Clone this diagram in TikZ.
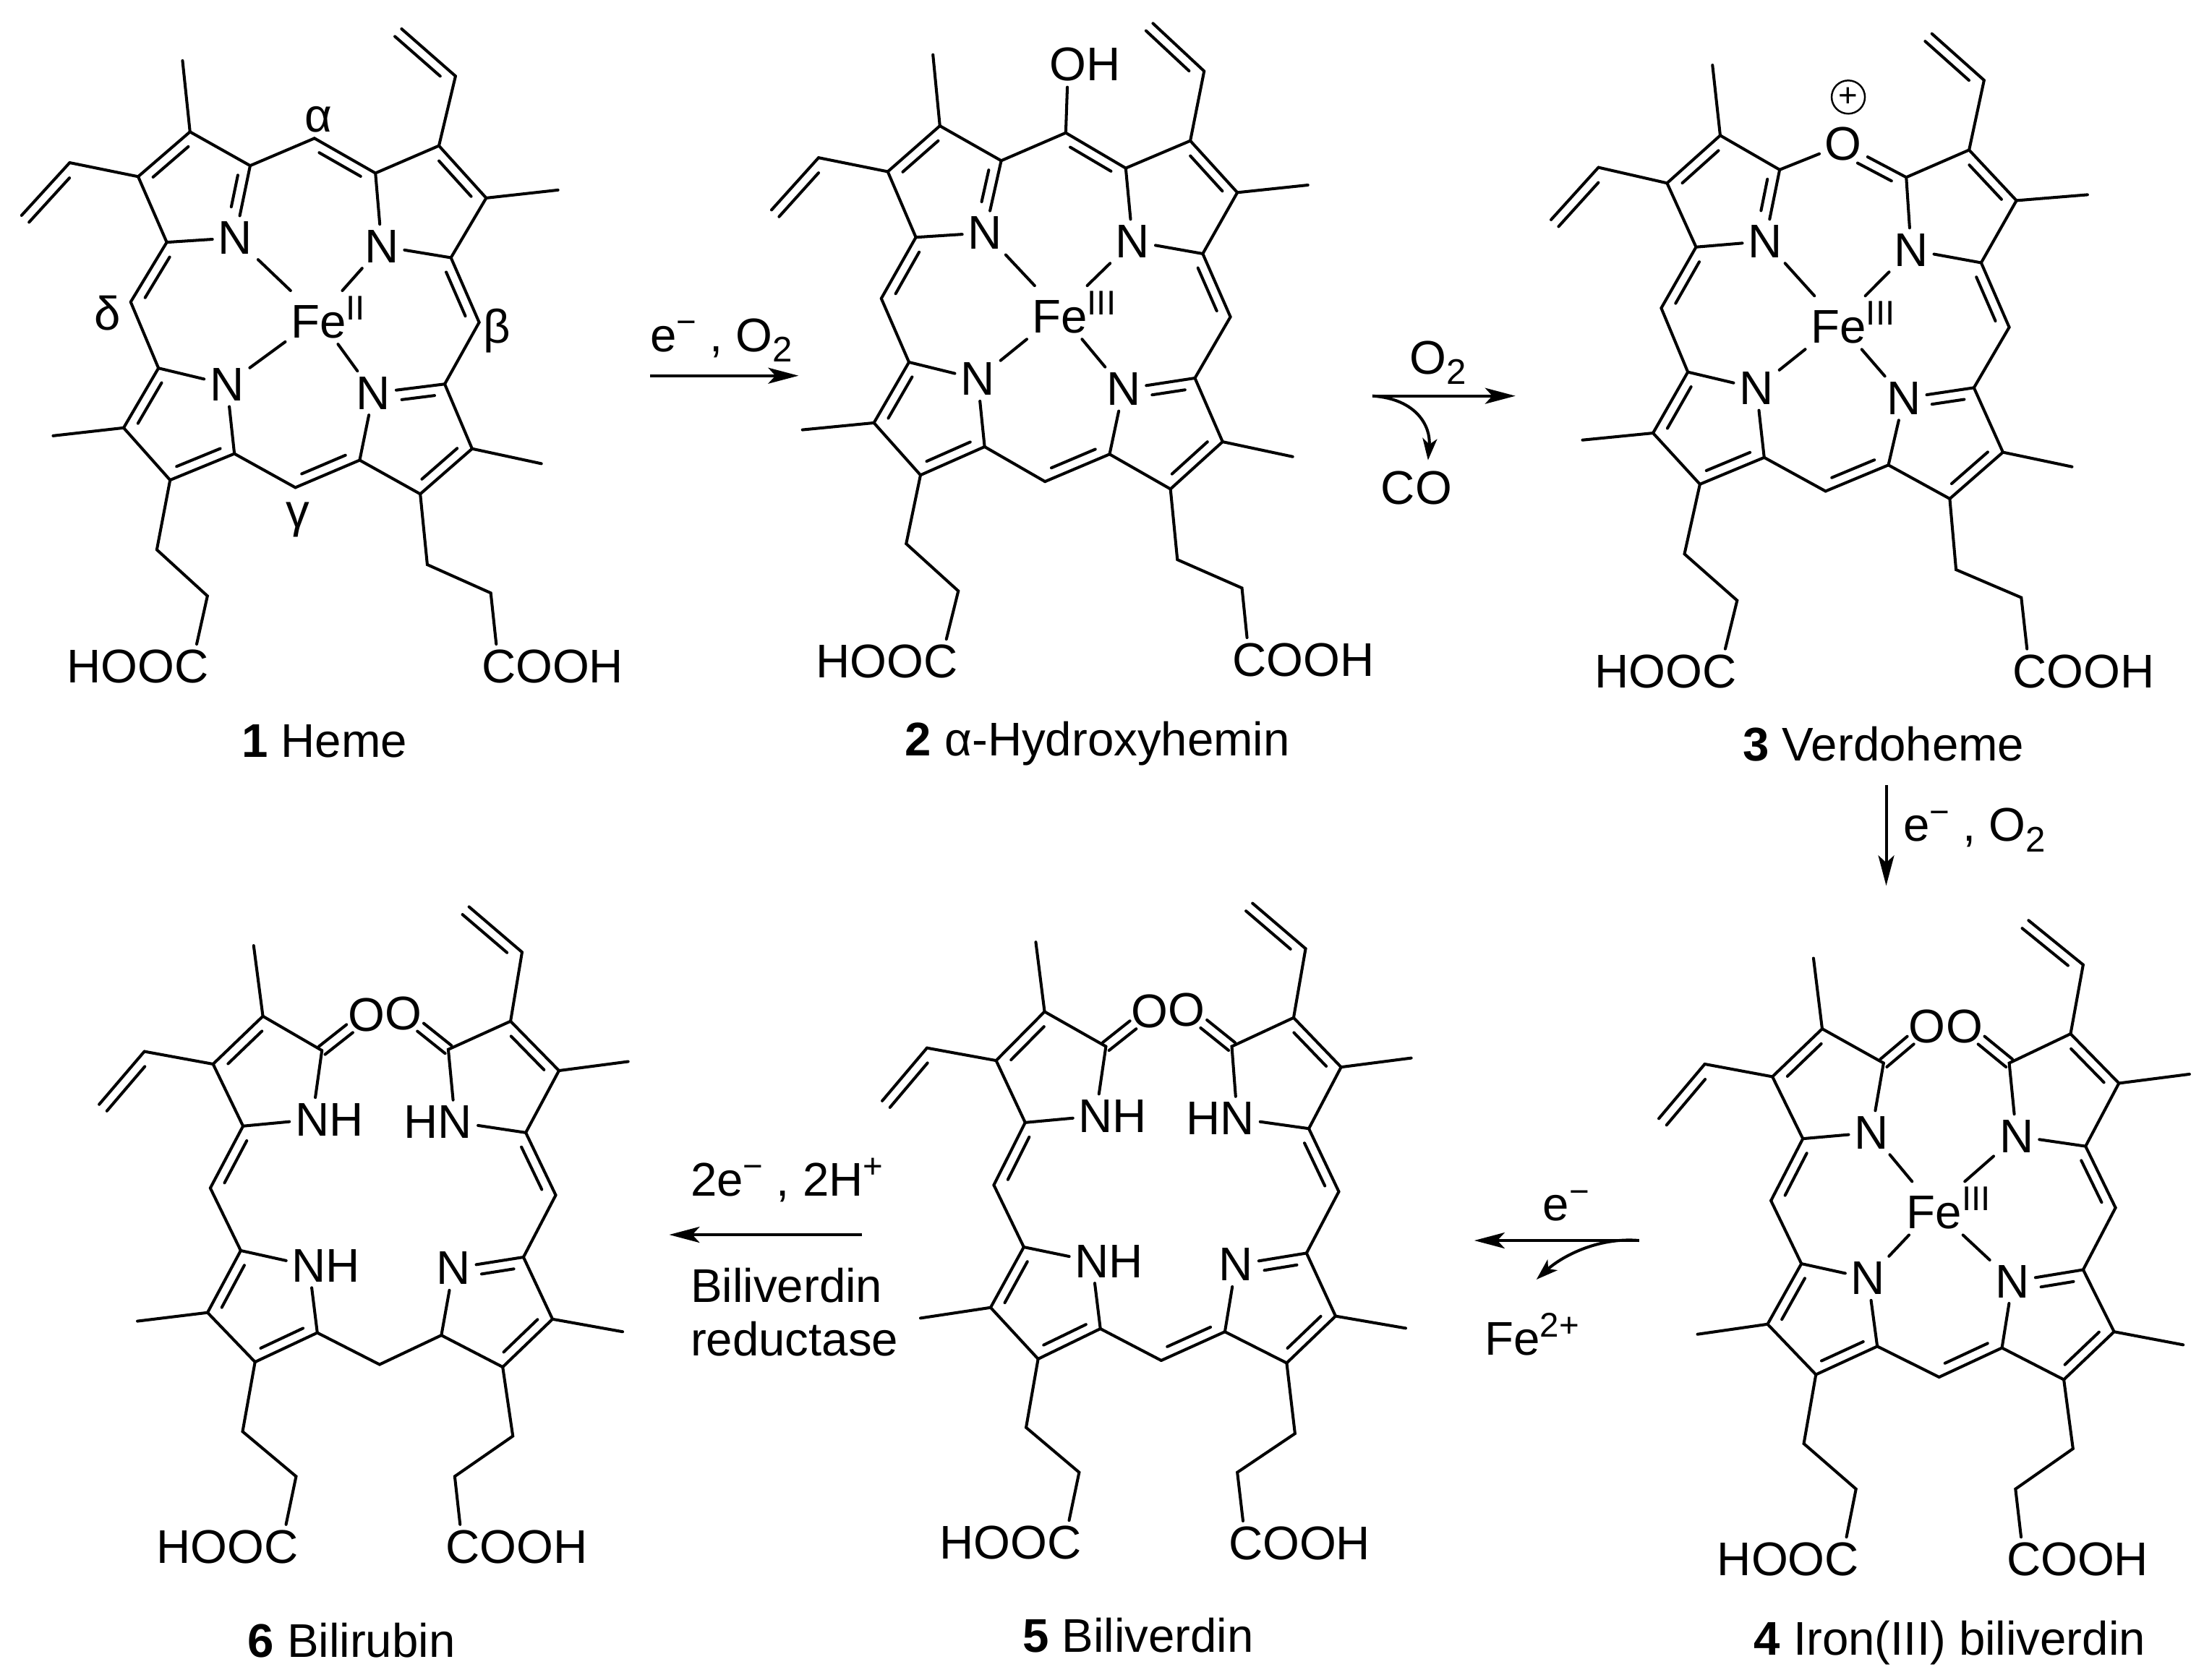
\documentclass[tikz,border=0pt]{standalone}
\usepackage{fontspec}
\setmainfont{Liberation Sans}
\usetikzlibrary{arrows.meta,calc}

\tikzset{
  bond/.style={line width=1.15pt,line cap=round},
  atom/.style={inner sep=0pt,outer sep=.08cm},
  rxn/.style={line width=1.15pt,-{Stealth[length=.42cm,width=.22cm,inset=.1cm]}},
  rxnbend/.style={line width=1.15pt,-{Stealth[length=.3cm,width=.2cm,inset=.08cm]}}
}
\newcommand{\sups}[1]{\raisebox{.38em}{\fontsize{13.5}{14}\selectfont #1}}
\newcommand{\subs}[1]{\raisebox{-.22em}{\fontsize{14}{14}\selectfont #1}}
\newcommand{\atoms}[1]{\foreach \n/\x/\y in {#1} \coordinate (\n) at (\x,\y);}
\newcommand{\dbl}[4][.84]{%
  \draw[bond] (#2) -- (#3);
  \draw[bond] ($(#2)!.16!(#3)!#4!90:(#3)$) -- ($(#2)!#1!(#3)!#4!-90:(#2)$);}
\newcommand{\cdbl}[2]{%
  \draw[bond] ($(#1)!.7mm!90:(#2)$) -- ($(#1)!.62!(#2)!.7mm!90:(#2)$);
  \draw[bond] ($(#1)!-.7mm!90:(#2)$) -- ($(#1)!.62!(#2)!-.7mm!90:(#2)$);}
% the bonds that all six molecules share
\newcommand{\pyrrolecore}{%
  % ring A
  \draw[bond] (Ab) -- (Aa);
  \draw[bond] (Ac) -- (Ad) -- (Na);
  \dbl{Ac}{Ab}{-1.4mm}
  \draw[bond] (Ab) -- (MeA);
  \draw[bond] (Ac) -- (Va);
  \dbl[1]{Va}{Ve}{1.4mm}
  % ring B
  \draw[bond] (Nb) -- (Ba) -- (Bb);
  \draw[bond] (Bc) -- (Bd) -- (Nb);
  \dbl{Bb}{Bc}{-1.4mm}
  \draw[bond] (Bc) -- (MeB);
  \draw[bond] (Bb) -- (Vb);
  \dbl[1]{Vb}{Vf}{1.4mm}
  % ring C
  \draw[bond] (Ca) -- (Cb);
  \draw[bond] (Cc) -- (Cd) -- (Nc);
  \dbl{Cb}{Cc}{-1.4mm}
  \dbl[.62]{Ca}{Nc}{1.4mm}
  \draw[bond] (Cb) -- (MeC);
  \draw[bond] (Cc) -- (Pc) -- (Pd) -- (Cooh);
  % ring D
  \draw[bond] (Da) -- (Nd) -- (Dd);
  \draw[bond] (Dc) -- (Db);
  \dbl{Dd}{Dc}{-1.4mm}
  \dbl{Db}{Da}{-1.4mm}
  \draw[bond] (Db) -- (MeD);
  \draw[bond] (Dc) -- (Pa) -- (Pb) -- (Hooc);
  % methine bridges
  \dbl{Ad}{md}{1.4mm}
  \draw[bond] (md) -- (Da);
  \dbl{Bd}{mb}{-1.4mm}
  \draw[bond] (mb) -- (Ca);
}

\begin{document}
\begin{tikzpicture}[every node/.style={font=\fontsize{18.6}{22}\selectfont}]
  \useasboundingbox (0,0) rectangle (30.48,-23.23);

  % Heme
  \begin{scope}[name prefix=m1-,x=.00574cm,y=-.006887cm]
    \atoms{Ab/458/265,Aa/603/333,Ac/333/355,Ad/402/487,ma/758/278,Ba/905/348,Bb/1058/293,Bc/1172/398,Bd/1087/518,mb/1155/648,Ca/1072/772,Cb/1138/902,Cc/1013/993,Cd/867/925,mc/712/980,Dd/565/912,Dc/410/965,Db/298/860,Da/382/740,md/315/607,MeA/440/122,Va/168/327,Ve/52/433,Vb/1098/153,Vf/968/58,MeB/1345/382,MeC/1305/932,MeD/128/876,Pa/378/1105,Pb/500/1198,Pc/1030/1135,Pd/1183/1192}
    \node[atom] (Na) at (567,478) {N};
    \node[atom] (Nb) at (920,495) {N};
    \node[atom] (Nc) at (900,790) {N};
    \node[atom] (Nd) at (547,773) {N};
    \node[atom] (Fe) at (768,638) {Fe\rlap{\sups{II}}};
    \node[atom] (Hooc) at (462,1340) {\llap{HOO}C};
    \node[atom] (Cooh) at (1202,1340) {C\rlap{OOH}};
    \pyrrolecore
    \dbl[.6]{Aa}{Na}{-1.4mm}
    \draw[bond] (Aa) -- (ma);
    \dbl{ma}{Ba}{-1.4mm}
    \dbl{Cd}{mc}{-1.4mm}
    \draw[bond] (mc) -- (Dd);
    \foreach \n in {Na,Nb,Nc,Nd} \draw[bond] (\n) -- (Fe);
    \node (la) at (768,240) {α};
    \node (lb) at (1198,665) {β};
    \node (lg) at (718,1045) {γ};
    \node (ld) at (260,630) {δ};
    \node (cap1) at (782,1490) {\textbf{1} Heme};
  \end{scope}

  % alpha-hydroxyhemin
  \begin{scope}[name prefix=m2-,shift={(10cm,0cm)},x=.006378cm,y=-.006887cm]
    \atoms{Ab/470/253,Aa/603/323,Ac/357/345,Ad/418/477,ma/743/267,Ba/873/338,Bb/1013/283,Bc/1115/387,Bd/1040/510,mb/1100/637,Ca/1023/760,Cb/1083/888,Cc/970/983,Cd/838/913,mc/698/968,Dd/567/898,Dc/428/955,Db/327/850,Da/403/728,md/343/600,MeA/455/110,Va/207/317,Ve/105/422,Vb/1043/143,Vf/932/47,MeB/1268/372,MeC/1235/918,MeD/172/864,Pa/397/1093,Pb/510/1188,Pc/985/1125,Pd/1125/1182}
    \node[atom] (Na) at (568,468) {N};
    \node[atom] (Nb) at (888,485) {N};
    \node[atom] (Nc) at (868,782) {N};
    \node[atom] (Nd) at (552,762) {N};
    \node[atom] (Fe) at (730,628) {Fe\rlap{\sups{III}}};
    \node[atom] (Oh) at (748,130) {O\rlap{H}};
    \node[atom] (Hooc) at (472,1330) {\llap{HOO}C};
    \node[atom] (Cooh) at (1141,1327) {C\rlap{OOH}};
    \pyrrolecore
    \dbl[.6]{Aa}{Na}{-1.4mm}
    \draw[bond] (Aa) -- (ma);
    \draw[bond] (ma) -- (Oh);
    \dbl{ma}{Ba}{-1.4mm}
    \dbl{Cd}{mc}{-1.4mm}
    \draw[bond] (mc) -- (Dd);
    \foreach \n in {Na,Nb,Nc,Nd} \draw[bond] (\n) -- (Fe);
    \node (cap2) at (812,1495) {\textbf{2} α-Hydroxyhemin};
  \end{scope}

  % Verdoheme
  \begin{scope}[name prefix=m3-,shift={(20cm,0cm)},x=.006684cm,y=-.008036cm]
    \atoms{Ab/567/233,Aa/690/292,Ac/457/315,Ad/517/425,Ba/952/305,Bb/1082/258,Bc/1180/345,Bd/1107/452,mb/1165/563,Ca/1092/667,Cb/1152/778,Cc/1042/858,Cd/915/800,mc/785/845,Dd/658/787,Dc/525/833,Db/428/745,Da/500/640,md/445/530,MeA/551/112,Va/315/288,Ve/217/378,Vb/1113/138,Vf/1005/58,MeB/1327/335,MeC/1295/803,MeD/282/757,Pa/493/953,Pb/602/1033,Pc/1055/980,Pd/1190/1028}
    \node[atom] (Na) at (660,415) {N};
    \node[atom] (Nb) at (962,430) {N};
    \node[atom] (Nc) at (947,685) {N};
    \node[atom] (Nd) at (642,668) {N};
    \node[atom] (Fe) at (812,555) {Fe\rlap{\sups{III}}};
    \node[atom] (Ox) at (822,248) {O};
    \node[draw,circle,inner sep=0pt,minimum size=.46cm,line width=.7pt,font=\fontsize{13}{13}\selectfont] (chg) at (832,167) {+};
    \node[atom] (Hooc) at (566,1155) {\llap{HOO}C};
    \node[atom] (Cooh) at (1207,1155) {C\rlap{OOH}};
    \pyrrolecore
    \dbl[.6]{Aa}{Na}{-1.4mm}
    \draw[bond] (Aa) -- (Ox);
    \dbl[.7]{Ba}{Ox}{1.4mm}
    \dbl{Cd}{mc}{-1.4mm}
    \draw[bond] (mc) -- (Dd);
    \foreach \n in {Na,Nb,Nc,Nd} \draw[bond] (\n) -- (Fe);
    \node (cap3) at (905,1280) {\textbf{3} Verdoheme};
  \end{scope}

  % Iron(III) biliverdin
  \begin{scope}[name prefix=m4-,shift={(20cm,-12.3cm)},x=.006684cm,y=-.006971cm]
    \atoms{Ab/778/277,Aa/905/345,Ac/675/372,Ad/738/495,Ba/1165/345,Bb/1292/287,Bc/1392/385,Bd/1323/510,mb/1385/632,Ca/1318/755,Cb/1382/878,Cc/1278/973,Cd/1150/910,mc/1020/968,Dd/892/907,Dc/765/963,Db/665/863,Da/735/743,md/672/618,MeA/760/137,Va/535/347,Ve/440/455,Vb/1318/150,Vf/1205/62,MeB/1538/367,MeC/1525/904,MeD/520/883,Pa/740/1100,Pb/848/1190,Pc/1297/1110,Pd/1178/1190}
    \node[atom] (Na) at (880,483) {N};
    \node[atom] (Nb) at (1180,490) {N};
    \node[atom] (Nc) at (1172,778) {N};
    \node[atom] (Nd) at (873,772) {N};
    \node[atom] (Fe) at (1010,633) {Fe\rlap{\sups{III}}};
    \node[atom] (Oa) at (995,272) {O};
    \node[atom] (Ob) at (1072,272) {O};
    \node[atom] (Hooc) at (819,1330) {\llap{HOO}C};
    \node[atom] (Cooh) at (1195,1330) {C\rlap{OOH}};
    \pyrrolecore
    \draw[bond] (Aa) -- (Na);
    \cdbl{Aa}{Oa}
    \cdbl{Ba}{Ob}
    \dbl{Cd}{mc}{-1.4mm}
    \draw[bond] (mc) -- (Dd);
    \foreach \n in {Na,Nb,Nc,Nd} \draw[bond] (\n) -- (Fe);
    \node (cap4) at (1042,1495) {\textbf{4} Iron(III) biliverdin};
  \end{scope}

  % Biliverdin
  \begin{scope}[name prefix=m5-,shift={(10cm,-12.3cm)},x=.006378cm,y=-.006971cm]
    \atoms{Ab/697/243,Aa/830/312,Ac/592/340,Ad/655/463,Ba/1103/312,Bb/1237/255,Bc/1340/353,Bd/1270/475,mb/1335/600,Ca/1265/722,Cb/1328/847,Cc/1222/940,Cd/1088/878,mc/950/935,Dd/818/872,Dc/683/932,Db/580/830,Da/652/710,md/587/587,MeA/678/105,Va/442/315,Ve/345/420,Vb/1263/118,Vf/1148/28,MeB/1492/335,MeC/1480/871,MeD/428/851,Pa/657/1068,Pb/772/1157,Pc/1240/1080,Pd/1115/1157}
    \node[atom] (Na) at (808,450) {N\rlap{H}};
    \node[atom] (Nb) at (1115,455) {\llap{H}N};
    \node[atom] (Nc) at (1112,745) {N};
    \node[atom] (Nd) at (800,738) {N\rlap{H}};
    \node[atom] (Oa) at (925,243) {O};
    \node[atom] (Ob) at (1005,240) {O};
    \node[atom] (Hooc) at (740,1297) {\llap{HOO}C};
    \node[atom] (Cooh) at (1133,1298) {C\rlap{OOH}};
    \pyrrolecore
    \draw[bond] (Aa) -- (Na);
    \cdbl{Aa}{Oa}
    \cdbl{Ba}{Ob}
    \dbl{Cd}{mc}{-1.4mm}
    \draw[bond] (mc) -- (Dd);
    \node (cap5) at (900,1480) {\textbf{5} Biliverdin};
  \end{scope}

  % Bilirubin
  \begin{scope}[name prefix=m6-,shift={(0cm,-12.3cm)},x=.006378cm,y=-.006971cm]
    \atoms{Ab/570/252,Aa/698/320,Ac/462/347,Ad/527/470,Ba/972/318,Bb/1107/262,Bc/1212/360,Bd/1140/483,mb/1205/607,Ca/1135/730,Cb/1198/853,Cc/1090/948,Cd/957/885,mc/823/943,Dd/688/880,Dc/553/938,Db/450/840,Da/522/717,md/456/593,MeA/550/112,Va/313/322,Ve/215/427,Vb/1132/125,Vf/1017/35,MeB/1362/342,MeC/1350/878,MeD/298/857,Pa/526/1076,Pb/642/1165,Pc/1112/1085,Pd/986/1165}
    \node[atom] (Na) at (677,457) {N\rlap{H}};
    \node[atom] (Nb) at (987,462) {\llap{H}N};
    \node[atom] (Nc) at (983,752) {N};
    \node[atom] (Nd) at (670,747) {N\rlap{H}};
    \node[atom] (Oa) at (795,250) {O};
    \node[atom] (Ob) at (875,247) {O};
    \node[atom] (Hooc) at (610,1305) {\llap{HOO}C};
    \node[atom] (Cooh) at (1003,1305) {C\rlap{OOH}};
    \pyrrolecore
    \draw[bond] (Aa) -- (Na);
    \cdbl{Aa}{Oa}
    \cdbl{Ba}{Ob}
    \draw[bond] (Cd) -- (mc) -- (Dd);
    \node (cap6) at (762,1490) {\textbf{6} Bilirubin};
  \end{scope}

  % Reaction arrows
  \begin{scope}[x=.01cm,y=-.01cm]
    \coordinate (a1s) at (900,520);
    \coordinate (a1e) at (1105,520);
    \draw[rxn] (a1s) -- (a1e);
    \node (t1) at (998,471) {e\sups{−} , O\subs{2}};

    \coordinate (a2s) at (1899,548);
    \coordinate (a2e) at (2097,548);
    \coordinate (a2c) at (1976,637);
    \draw[rxn] (a2s) -- (a2e);
    \draw[rxnbend] (a2s) .. controls (1960,552) and (1980,590) .. (a2c);
    \node (t2a) at (1990,502) {O\subs{2}};
    \node (t2b) at (1960,675) {CO};

    \coordinate (a3s) at (2610,1087);
    \coordinate (a3e) at (2610,1226);
    \draw[rxn] (a3s) -- (a3e);
    \node (t3) at (2732,1149) {e\sups{−} , O\subs{2}};

    \coordinate (a4s) at (2268,1717);
    \coordinate (a4e) at (2040,1717);
    \coordinate (a4c) at (2126,1771);
    \draw[rxn] (a4s) -- (a4e);
    \draw[rxnbend] (a4s) .. controls (2210,1712) and (2160,1740) .. (a4c);
    \node (t4a) at (2167,1669) {e\sups{−}};
    \node (t4b) at (2120,1847) {Fe\sups{2+}};

    \coordinate (a5s) at (1193,1709);
    \coordinate (a5e) at (926,1709);
    \draw[rxn] (a5s) -- (a5e);
    \node[anchor=west,inner sep=0pt] (t5a) at (955,1633) {2e\sups{−} , 2H\sups{+}};
    \node[anchor=west,inner sep=0pt] (t5b) at (955,1779) {Biliverdin};
    \node[anchor=west,inner sep=0pt] (t5c) at (955,1853) {reductase};
  \end{scope}
\end{tikzpicture}
\end{document}
